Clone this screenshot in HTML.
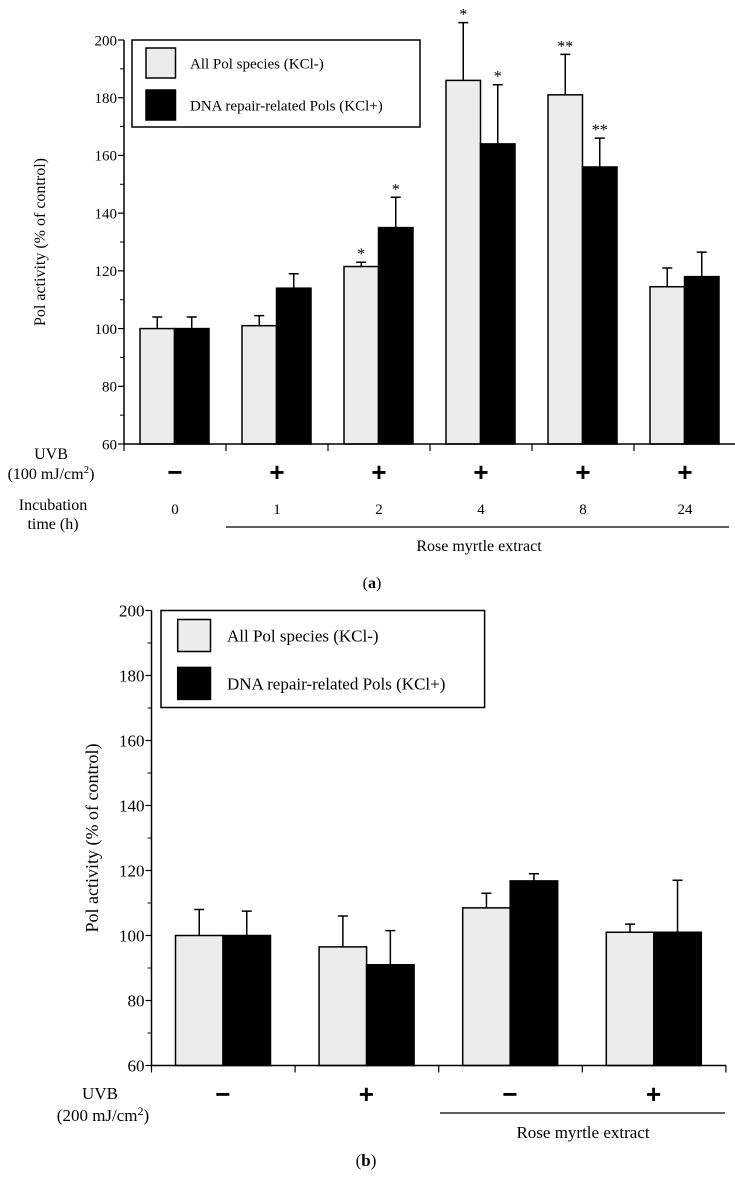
<!DOCTYPE html>
<html><head><meta charset="utf-8"><style>
html,body{margin:0;padding:0;background:#fff;}
svg{display:block;font-family:"Liberation Serif",serif;}
</style></head><body>
<svg id="fig" width="735" height="1186" viewBox="0 0 735 1186" xmlns="http://www.w3.org/2000/svg"></svg>
<script>
// Panel (a) data
const catsA = ["0","1","2","4","8","24"];
const uvbA = ["−","+","+","+","+","+"];
const lightA = [100,101,121.5,186,181,114.5];
const lightErrA = [104,104.5,123,206,195,121];
const darkA = [100,114,135,164,156,118];
const darkErrA = [104,119,145.5,184.5,166,126.5];
const starsLightA = ["","","*","*","**",""];
const starsDarkA = ["","","*","*","**",""];
const ticksA = [60,80,100,120,140,160,180,200];
// Panel (b) data
const uvbB = ["−","+","−","+"];
const lightB = [100,96.5,108.5,101];
const lightErrB = [108,106,113,103.5];
const darkB = [100,91,116.8,101];
const darkErrB = [107.5,101.5,119,117];
const ticksB = [60,80,100,120,140,160,180,200];

const svg = document.getElementById('fig');
const NS = "http://www.w3.org/2000/svg";
function mk(tag, attrs, parent){
  const e = document.createElementNS(NS, tag);
  for (const k in attrs) e.setAttribute(k, attrs[k]);
  (parent||svg).appendChild(e);
  return e;
}
function txt(s, x, y, size, anchor, parent){
  const t = mk('text', {x:x, y:y, 'font-size':size, 'text-anchor':anchor||'middle', fill:'#000'}, parent);
  t.textContent = s;
  return t;
}

function panel(cfg){
  const g = mk('g', {});
  
  
  const y = v => cfg.y0 - (v - 60) * (cfg.y0 - cfg.y1) / 140;
  const gx = i => cfg.ax + i * cfg.gw;
  // bars
  cfg.light.forEach((v, i) => {
    const x = gx(i) + cfg.off;
    // error bars
    const e1 = mk('path', {d:`M${x+cfg.bw/2} ${y(v)}V${y(cfg.lerr[i])}M${x+cfg.bw/2-5} ${y(cfg.lerr[i])}h10`, stroke:'#000', 'stroke-width':1.5, fill:'none'}, g);
    
    
    const r = mk('rect', {x:x, y:y(v), width:cfg.bw, height:y(60)-y(v), fill:'#ececec', stroke:'#000', 'stroke-width':1.5}, g);
    
    
    const d = cfg.dark[i];
    const x2 = x + cfg.bw;
    const e2 = mk('path', {d:`M${x2+cfg.bw/2} ${y(d)}V${y(cfg.derr[i])}M${x2+cfg.bw/2-5} ${y(cfg.derr[i])}h10`, stroke:'#000', 'stroke-width':1.5, fill:'none'}, g);
    
    
    const r2 = mk('rect', {x:x2, y:y(d), width:cfg.bw, height:y(60)-y(d), fill:'#000', stroke:'#000', 'stroke-width':1.5}, g);
    
    
    if (cfg.sl && cfg.sl[i]) {
      const s = txt(cfg.sl[i], x+cfg.bw/2, y(cfg.lerr[i])-3, 16, 'middle', g);
      
      
    }
    if (cfg.sd && cfg.sd[i]) {
      const s = txt(cfg.sd[i], x2+cfg.bw/2, y(cfg.derr[i])-3, 16, 'middle', g);
      
      
    }
  });
  // axes
  const ya = mk('path', {d:`M${cfg.ax} ${cfg.y1}V${cfg.y0}`, stroke:'#000', 'stroke-width':1.5}, g);
  
  
  const xa = mk('path', {d:`M${cfg.ax} ${cfg.y0}H${cfg.xend}`, stroke:'#000', 'stroke-width':1.5}, g);
  
  
  for (let i = 0; i <= cfg.light.length; i++) {
    const t = mk('path', {d:`M${gx(i)} ${cfg.y0}v7`, stroke:'#000', 'stroke-width':1.2}, g);
    
    
  }
  cfg.ticks.forEach((v, k) => {
    const t = mk('path', {d:`M${cfg.ax-6} ${y(v)}H${cfg.ax}`, stroke:'#000', 'stroke-width':1.2}, g);
    
    
    if (k < cfg.ticks.length-1) {
      const m = mk('path', {d:`M${cfg.ax-4} ${y(v+10)}H${cfg.ax}`, stroke:'#000', 'stroke-width':1}, g);
      
      
    }
    const l = txt(String(v), cfg.ax-7, y(v)+cfg.fs*0.35, cfg.fs, 'end', g);
    
    
  });
  // y title
  const yt = txt('Pol activity (% of control)', 0, 0, cfg.fs+1, 'middle', g);
  yt.setAttribute('transform', `translate(${cfg.ytx},${cfg.yty}) rotate(-90)`);
  
  
  // legend
  const lg = mk('g', {}, g);
  
  
  const L = cfg.leg;
  mk('rect', {x:L.x, y:L.y, width:L.w, height:L.h, fill:'#fff', stroke:'#000', 'stroke-width':1.5}, lg);
  const s1 = mk('rect', {x:L.sx, y:L.s1y, width:L.sw, height:L.sh, fill:'#ececec', stroke:'#000', 'stroke-width':1.5}, lg);
  
  
  const s2 = mk('rect', {x:L.sx, y:L.s2y, width:L.sw, height:L.sh, fill:'#000', stroke:'#000', 'stroke-width':1.5}, lg);
  
  
  const t1 = txt('All Pol species (KCl-)', L.tx, L.s1y+L.sh/2+L.fs*0.35, L.fs, 'start', lg);
  
  
  const t2 = txt('DNA repair-related Pols (KCl+)', L.tx, L.s2y+L.sh/2+L.fs*0.35, L.fs, 'start', lg);
  
  
  // UVB signs
  cfg.uvb.forEach((s, i) => {
    const t = mk('text', {x:gx(i)+cfg.gw/2+(cfg.signShift||0), y:cfg.signY, 'font-size':26, 'font-family':'Liberation Sans, sans-serif', 'font-weight':'bold', 'text-anchor':'middle'}, g);
    t.textContent = s;
    
    
  });
  return {gx, y};
}

const A = panel({name:'panel-a', ax:124, y0:444, y1:40, gw:102, off:16, bw:34.5, xend:735,
  light:lightA, lerr:lightErrA, dark:darkA, derr:darkErrA, sl:starsLightA, sd:starsDarkA,
  ticks:ticksA, fs:15, ytx:45, yty:242, uvb:uvbA, signY:481, signShift:0,
  leg:{x:132,y:40,w:288,h:87,sx:146,s1y:48,s2y:90,sw:29.5,sh:30,tx:190,fs:15}});
catsA.forEach((c, i) => {
  const t = txt(c, A.gx(i)+51, 514, 15);
  
  
});
let t;
t = txt('UVB', 51, 459, 16);  
t = mk('text', {x:51, y:479, 'font-size':16, 'text-anchor':'middle'}); t.innerHTML = '(100 mJ/cm<tspan font-size="11" dy="-6">2</tspan><tspan dy="6">)</tspan>';
 
t = txt('Incubation', 53, 510, 16);  
t = txt('time (h)', 53, 529, 16);  
t = mk('path', {d:'M226 527H729', stroke:'#000', 'stroke-width':1.3});  
t = txt('Rose myrtle extract', 479, 551, 16);  
t = mk('text', {x:372, y:588, 'font-size':16, 'text-anchor':'middle'}); t.innerHTML = '(<tspan font-weight="bold">a</tspan>)';
 

const B = panel({name:'panel-b', ax:151.5, y0:1065.5, y1:610.5, gw:143.6, off:24, bw:47.5, xend:726,
  light:lightB, lerr:lightErrB, dark:darkB, derr:darkErrB, sl:null, sd:null,
  ticks:ticksB, fs:17, ytx:98, yty:838, uvb:uvbB, signY:1103, signShift:-0.5,
  leg:{x:161,y:610.5,w:323.6,h:97,sx:177.7,s1y:619.5,s2y:667.4,sw:32.8,sh:32,tx:227,fs:17}});
t = txt('UVB', 100, 1099, 17);  
t = mk('text', {x:103, y:1121, 'font-size':17, 'text-anchor':'middle'}); t.innerHTML = '(200 mJ/cm<tspan font-size="12" dy="-6">2</tspan><tspan dy="6">)</tspan>';
 
t = mk('path', {d:'M440 1113H725', stroke:'#000', 'stroke-width':1.3});  
t = txt('Rose myrtle extract', 583, 1138, 17);  
t = mk('text', {x:366, y:1166, 'font-size':17, 'text-anchor':'middle'}); t.innerHTML = '(<tspan font-weight="bold">b</tspan>)';
 
</script>
</body></html>
